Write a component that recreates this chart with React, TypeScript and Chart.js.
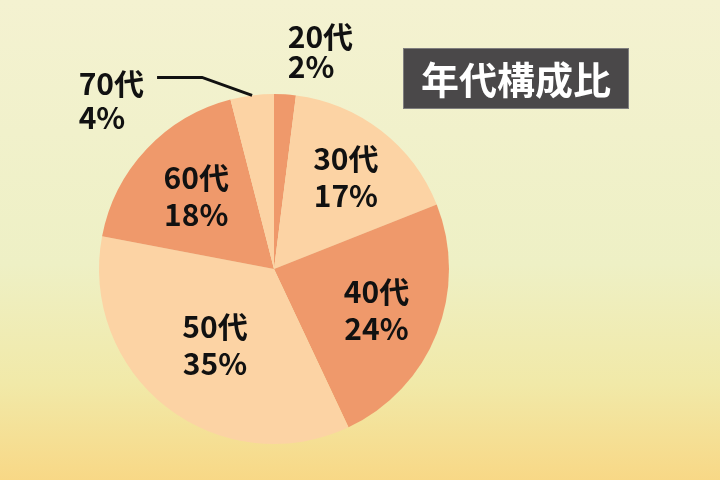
import React, { useEffect, useRef } from "react";
import { Chart, registerables } from "chart.js";

Chart.register(...registerables);

// ---- data ----
const categories = ["20代", "30代", "40代", "50代", "60代", "70代"];
const shares = [2, 17, 24, 35, 18, 4];
const percentLabels = ["2%", "17%", "24%", "35%", "18%", "4%"];
const titleText = "年代構成比";

// ---- styles ----
const DARK = "#ef996b";
const LIGHT = "#fcd3a4";
const sliceColors = [DARK, LIGHT, DARK, LIGHT, DARK, LIGHT];
const insideLabelRadius = [0, 0.67, 0.63, 0.55, 0.61, 0];
const FONT = '"Noto Sans CJK JP", "Noto Sans", sans-serif';

const backgroundPlugin = {
  id: "bg",
  beforeDraw(chart: any) {
    const { ctx, width, height } = chart;
    ctx.save();
    const g = ctx.createLinearGradient(0, 0, 0, height);
    g.addColorStop(0, "#f4f2d1");
    g.addColorStop(0.55, "#eef0c5");
    g.addColorStop(0.8, "#f1e9a8");
    g.addColorStop(1, "#f8d886");
    ctx.fillStyle = g;
    ctx.fillRect(0, 0, width, height);
    ctx.restore();
  },
};

const labelPlugin = {
  id: "labels",
  afterDraw(chart: any) {
    const { ctx } = chart;
    const meta = chart.getDatasetMeta(0);
    ctx.save();
    ctx.fillStyle = "#111";
    ctx.font = `bold 30px ${FONT}`;
    ctx.textBaseline = "middle";
    meta.data.forEach((arc: any, i: number) => {
      const p = arc.getProps(["x", "y", "startAngle", "endAngle", "outerRadius"], true);
      const mid = (p.startAngle + p.endAngle) / 2;
      const cos = Math.cos(mid);
      const sin = Math.sin(mid);
      if (i === 0) {
        const r = p.outerRadius * 1.245;
        const lx = p.x + cos * r;
        const ly = p.y + sin * r;
        ctx.textAlign = "left";
        ctx.fillText(categories[i], lx, ly - 15);
        ctx.fillText(percentLabels[i], lx, ly + 15);
      } else if (i === categories.length - 1) {
        const sx = p.x + cos * p.outerRadius;
        const sy = p.y + sin * p.outerRadius;
        const ex = sx - 50;
        const ey = sy - 18;
        const fx = ex - 45;
        ctx.strokeStyle = "#111";
        ctx.lineWidth = 3;
        ctx.beginPath();
        ctx.moveTo(sx, sy);
        ctx.lineTo(ex, ey);
        ctx.lineTo(fx, ey);
        ctx.stroke();
        const w = ctx.measureText(categories[i]).width;
        const left = fx - 13 - w;
        ctx.textAlign = "left";
        ctx.fillText(categories[i], left, ey + 6);
        ctx.fillText(percentLabels[i], left, ey + 40);
      } else {
        const r = p.outerRadius * insideLabelRadius[i];
        const cx = p.x + cos * r;
        const cy = p.y + sin * r;
        ctx.textAlign = "center";
        ctx.fillText(categories[i], cx, cy - 18);
        ctx.fillText(percentLabels[i], cx, cy + 19);
      }
    });

    // title box
    const bx = 403, by = 48, bw = 226, bh = 61;
    ctx.fillStyle = "#4a4849";
    ctx.fillRect(bx, by, bw, bh);
    ctx.strokeStyle = "rgba(140,140,140,0.8)";
    ctx.lineWidth = 1;
    ctx.strokeRect(bx + 0.5, by + 0.5, bw - 1, bh - 1);
    ctx.fillStyle = "#ffffff";
    ctx.font = `bold 38px ${FONT}`;
    ctx.textAlign = "center";
    ctx.fillText(titleText, bx + bw / 2, by + bh / 2 + 1);
    ctx.restore();
  },
};

export default function App() {
  const ref = useRef<HTMLCanvasElement | null>(null);
  useEffect(() => {
    if (!ref.current) return;
    const chart = new Chart(ref.current, {
      type: "pie",
      data: {
        labels: categories,
        datasets: [
          {
            data: shares,
            backgroundColor: sliceColors,
            borderWidth: 0,
          },
        ],
      },
      options: {
        responsive: false,
        animation: false,
        layout: { padding: { left: 99, right: 271, top: 94, bottom: 36 } },
        plugins: {
          legend: { display: false },
          tooltip: { enabled: false },
        },
      },
      plugins: [backgroundPlugin, labelPlugin],
    });
    return () => chart.destroy();
  }, []);
  return (
    <div style={{ position: "fixed", left: 0, top: 0, width: 720, height: 480 }}>
      <canvas ref={ref} width={720} height={480} />
    </div>
  );
}
